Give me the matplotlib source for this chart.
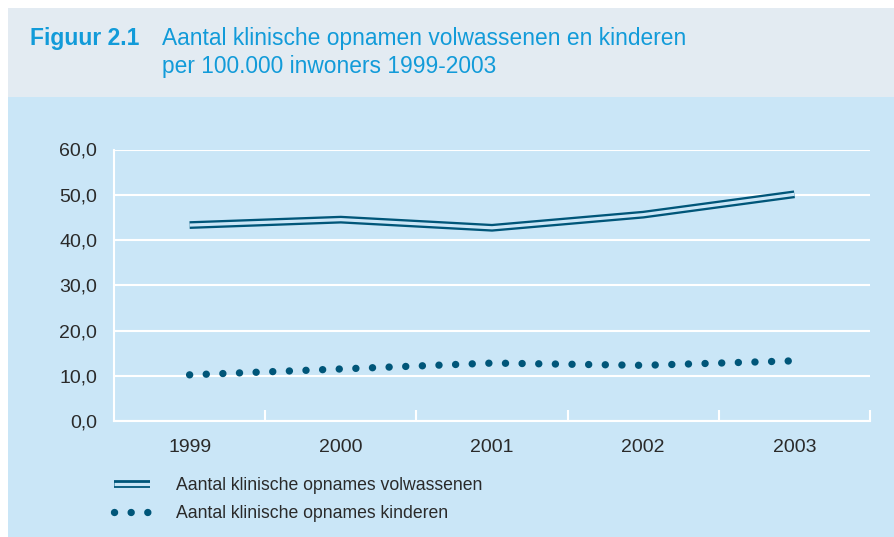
import numpy as np
import matplotlib
matplotlib.use('Agg')
from matplotlib import pyplot as plt
from matplotlib.patches import Rectangle
from matplotlib.legend_handler import HandlerTuple

#data
years=['1999','2000','2001','2002','2003']
volwassenen=[43.3,44.5,42.7,45.6,50.1]
kinderen=[10.2,11.5,12.8,12.3,13.3]
yticks=[0,10,20,30,40,50,60]
ytick_labels=['0,0','10,0','20,0','30,0','40,0','50,0','60,0']
label_volw='Aantal klinische opnames volwassenen'
label_kind='Aantal klinische opnames kinderen'

#colors
band_color='#e3ebf2'
chart_bg='#cae6f7'
title_color='#129bd9'
line_color='#005679'
text_color='#2a2a2a'

plt.rcParams['font.family']=['Liberation Sans','DejaVu Sans']

fig=plt.figure(figsize=(8.95,5.37),dpi=100)
fig.patch.set_facecolor('white')
W,H=895,537
#background panels
fig.add_artist(Rectangle((8/W,0),1-8/W,1-97/H,transform=fig.transFigure,
                         facecolor=chart_bg,edgecolor='none',zorder=0))
fig.add_artist(Rectangle((8/W,1-97/H),1-8/W,89/H,transform=fig.transFigure,
                         facecolor=band_color,edgecolor='none',zorder=0))

#title
fig.text(30/W,1-38/H,'Figuur 2.1',color=title_color,fontsize=16.5,
         fontweight='bold',va='center',ha='left')
fig.text(162/W,1-38/H,'Aantal klinische opnamen volwassenen en kinderen',
         color=title_color,fontsize=16.4,va='center',ha='left')
fig.text(162/W,1-66/H,'per 100.000 inwoners 1999-2003',
         color=title_color,fontsize=16.4,va='center',ha='left')

ax=fig.add_axes([114/W,1-421/H,756/W,271.5/H])
ax.set_facecolor('none')
x=np.arange(len(years))

#double line: thick dark + thin background-coloured core
l_dark,=ax.plot(x,volwassenen,color=line_color,lw=5.6,solid_capstyle='butt',
                solid_joinstyle='round',zorder=3)
l_light,=ax.plot(x,volwassenen,color=chart_bg,lw=2.3,solid_capstyle='butt',
                 solid_joinstyle='round',zorder=4)
#dotted line
l_dots,=ax.plot(x,kinderen,color=line_color,lw=5.3,linestyle=(0,(0.01,2.25)),
                dash_capstyle='round',zorder=3)

ax.set_xlim(-0.5,len(years)-0.5)
ax.set_ylim(0,60)
ax.set_yticks(yticks)
ax.set_yticklabels(ytick_labels)
ax.set_xticks(x)
ax.set_xticklabels(years)
ax.set_xticks(np.arange(0.5,len(years),1),minor=True)
ax.tick_params(axis='x',which='major',length=0,pad=13,labelsize=14,labelcolor=text_color)
ax.tick_params(axis='x',which='minor',length=8,width=1.5,direction='in',color='white')
ax.tick_params(axis='y',length=0,pad=12,labelsize=14,labelcolor=text_color)
ax.grid(axis='y',color='white',lw=1.5)
ax.set_axisbelow(True)
for s in ['top','right']:
    ax.spines[s].set_visible(False)
for s in ['left','bottom']:
    ax.spines[s].set_color('white')
    ax.spines[s].set_linewidth(1.5)

#legend
leg=fig.legend([(l_dark,l_light),l_dots],[label_volw,label_kind],
               handler_map={tuple:HandlerTuple(ndivide=1)},
               loc='upper left',bbox_to_anchor=(98/W,1-461/H),
               frameon=False,fontsize=12.7,handlelength=2.05,handletextpad=1.45,
               labelspacing=0.65,labelcolor=text_color)

plt.savefig('out.png',dpi=100,facecolor=fig.get_facecolor())
